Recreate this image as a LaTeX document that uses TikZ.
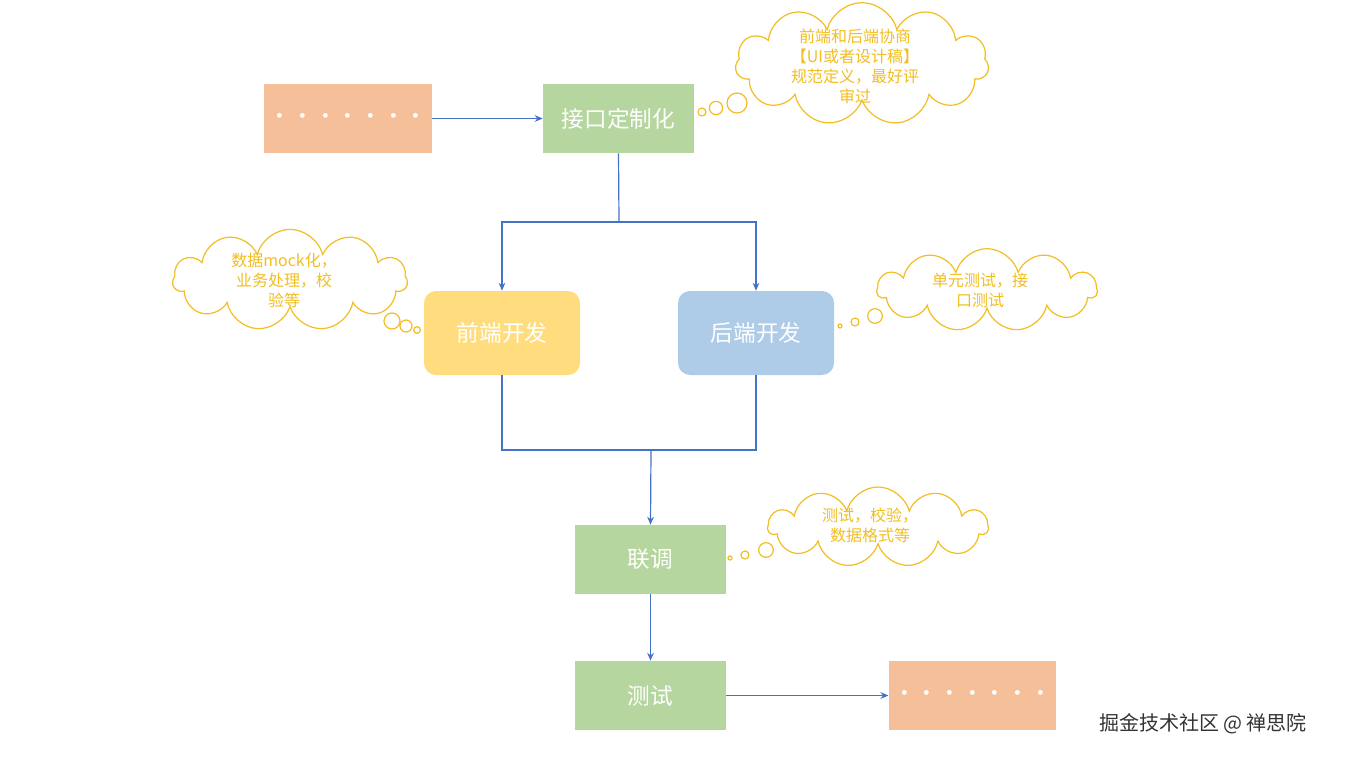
\documentclass[tikz,border=0pt]{standalone}
\usepackage{fontspec}
\setmainfont{Noto Sans CJK SC}
\usetikzlibrary{shapes.symbols,arrows.meta}
\definecolor{gr}{HTML}{B5D69E}
\definecolor{og}{HTML}{F4BF99}
\definecolor{ye}{HTML}{FFDD7F}
\definecolor{bl}{HTML}{AECBE8}
\definecolor{ln}{HTML}{4472C4}
\definecolor{cl}{HTML}{F2BE22}
\begin{document}
\begin{tikzpicture}[x=0.75pt,y=-0.75pt,
 box/.style={draw=none,minimum width=113.25pt,minimum height=51.75pt,text=white,font=\fontsize{17}{20}\selectfont},
 rbox/.style={box,minimum width=117pt,minimum height=63pt,rounded corners=9pt},
 ar/.style={draw=ln,line width=0.9pt,-{Stealth[length=6pt,width=5pt]}},
 ln/.style={draw=ln,line width=0.9pt},
 cloudy/.style={cloud,cloud puffs=11,draw=cl,line width=0.9pt,fill=white,aspect=2.5},
 ct/.style={text=cl,align=center,font=\fontsize{12}{15}\selectfont},
 bub/.style={circle,draw=cl,line width=0.9pt,fill=white,inner sep=0pt}]
\useasboundingbox (0,0) rectangle (1355,761);
\node[box,fill=og] (o1) at (348,118.5) {\textperiodcentered\textperiodcentered\textperiodcentered\textperiodcentered\textperiodcentered\textperiodcentered\textperiodcentered};
\node[box,fill=gr] (jk) at (618.5,118.5) {接口定制化};
\node[rbox,fill=ye] (qd) at (502,333) {前端开发};
\node[rbox,fill=bl] (hd) at (756,333) {后端开发};
\node[box,fill=gr] (lt) at (650.5,559.5) {联调};
\node[box,fill=gr] (cs) at (650.5,695.5) {测试};
\node[box,fill=og] (o2) at (972.5,695.5) {\textperiodcentered\textperiodcentered\textperiodcentered\textperiodcentered\textperiodcentered\textperiodcentered\textperiodcentered};
\coordinate (s1) at (619,222);
\coordinate (s2) at (651,450);
\draw[ar] (o1) -- (jk);
\draw[ln] (jk.south) -- (s1);
\draw[ar] (s1) -| (qd.north);
\draw[ar] (s1) -| (hd.north);
\draw[ln] (qd.south) |- (s2);
\draw[ln] (hd.south) |- (s2);
\draw[ar] (s2) -- (lt.north);
\draw[ar] (lt) -- (cs);
\draw[ar] (cs) -- (o2);
% clouds
\node[cloudy,minimum width=190pt,minimum height=92pt] (c1) at (862,64) {};
\node[ct] (t1) at (855,66) {前端和后端协商\\【UI或者设计稿】\\规范定义，最好评\\审过};
\node[bub,minimum size=15pt] (b11) at (737,103) {};
\node[bub,minimum size=10pt] (b12) at (716,108) {};
\node[bub,minimum size=6pt] (b13) at (702,112) {};
\node[cloudy,minimum width=176pt,minimum height=76pt] (c2) at (290,280) {};
\node[ct] (t2) at (284,280) {数据mock化，\\业务处理，校\\验等};
\node[bub,minimum size=12pt] (b21) at (392,321) {};
\node[bub,minimum size=9pt] (b22) at (406,326) {};
\node[bub,minimum size=5pt] (b23) at (417,330) {};
\node[cloudy,minimum width=165pt,minimum height=62pt] (c3) at (987,290) {};
\node[ct] (t3) at (980,290) {单元测试，接\\口测试};
\node[bub,minimum size=11pt] (b31) at (875,316) {};
\node[bub,minimum size=6pt] (b32) at (855,322) {};
\node[bub,minimum size=3pt] (b33) at (840,326) {};
\node[cloudy,minimum width=165pt,minimum height=60pt] (c4) at (878,527) {};
\node[ct] (t4) at (870,525) {测试，校验，\\数据格式等};
\node[bub,minimum size=11pt] (b41) at (766,550) {};
\node[bub,minimum size=6pt] (b42) at (745,555) {};
\node[bub,minimum size=3pt] (b43) at (730,558) {};
\node[text=black!80,font=\fontsize{15}{18}\selectfont] (wm) at (1203,724) {掘金技术社区 @ 禅思院};
\end{tikzpicture}
\end{document}
